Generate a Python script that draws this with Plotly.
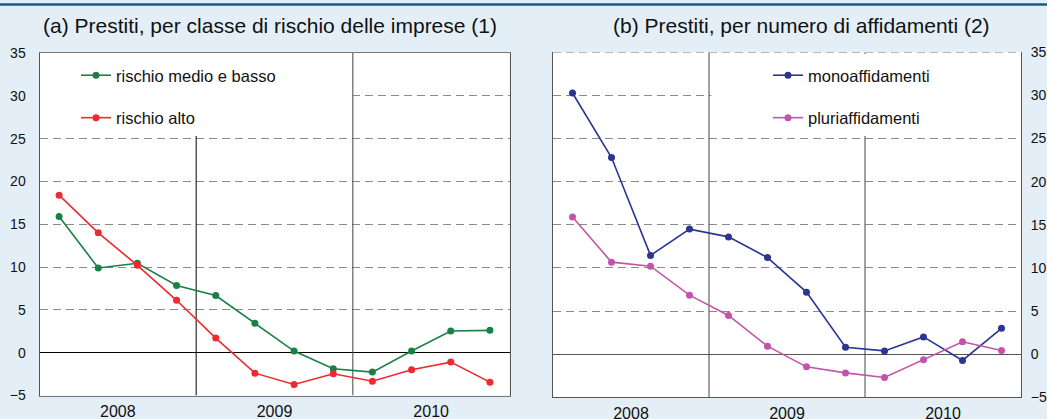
import plotly.graph_objects as go

quarters = ["2008T1", "2008T2", "2008T3", "2008T4",
            "2009T1", "2009T2", "2009T3", "2009T4",
            "2010T1", "2010T2", "2010T3", "2010T4"]
years = ["2008", "2009", "2010"]

rischio_medio_basso = [15.9, 9.9, 10.45, 7.85, 6.67, 3.43, 0.19, -1.87, -2.27, 0.2, 2.53, 2.61]
rischio_alto = [18.4, 14.0, 10.2, 6.12, 1.71, -2.39, -3.71, -2.46, -3.33, -1.99, -1.1, -3.44]

monoaffidamenti = [30.28, 22.8, 11.45, 14.5, 13.6, 11.2, 7.19, 0.81, 0.38, 2.0, -0.73, 3.0]
pluriaffidamenti = [15.9, 10.67, 10.2, 6.84, 4.49, 0.93, -1.47, -2.17, -2.7, -0.66, 1.43, 0.43]

title_a = "(a) Prestiti, per classe di rischio delle imprese (1)"
title_b = "(b) Prestiti, per numero di affidamenti (2)"
y_ticks = [-5, 0, 5, 10, 15, 20, 25, 30, 35]

W, H = 1047, 419
FONT = "Liberation Sans, Arial, sans-serif"
BG = "#e3eef6"

xi = list(range(len(quarters)))
year_centers = [sum(i for i, q in enumerate(quarters) if q.startswith(y)) /
                sum(1 for q in quarters if q.startswith(y)) for y in years]
year_bounds = [i - 0.5 for i in range(1, len(quarters)) if quarters[i][:4] != quarters[i - 1][:4]]

fig = go.Figure()

def add(x, y, name, color, xa, ya, legend):
    fig.add_trace(go.Scatter(
        x=x, y=y, name=name, mode="lines+markers",
        line=dict(color=color, width=1.6),
        marker=dict(color=color, size=7),
        xaxis=xa, yaxis=ya, legend=legend, legendgroup=name,
    ))

add(xi, rischio_medio_basso, "rischio medio e basso", "#1a8045", "x", "y", "legend")
add(xi, rischio_alto, "rischio alto", "#ee2a2e", "x", "y", "legend")
add(xi, monoaffidamenti, "monoaffidamenti", "#2b3592", "x2", "y2", "legend2")
add(xi, pluriaffidamenti, "pluriaffidamenti", "#c255ab", "x2", "y2", "legend2")

def px_x(p):
    return p / W

def px_y(p):
    return 1 - p / H

xcommon = dict(range=[-0.5, len(quarters) - 0.5], tickmode="array",
               tickvals=year_centers, ticktext=years, showgrid=False,
               zeroline=False, ticks="", tickfont=dict(size=16, color="#111", family=FONT),
               ticklabelstandoff=1, automargin=False)
ycommon = dict(range=[-5, 35], tickmode="array", tickvals=y_ticks,
               showgrid=True, gridcolor="#8a8a8a", griddash="8px,5px", gridwidth=1,
               ticks="", tickfont=dict(size=14, color="#111", family=FONT),
               zeroline=True, zerolinewidth=1.2, automargin=False)

fig.update_layout(
    width=W, height=H, margin=dict(l=0, r=0, t=0, b=0, autoexpand=False),
    paper_bgcolor=BG, plot_bgcolor="white",
    font=dict(family=FONT, size=14, color="#111"),
    xaxis=dict(domain=[px_x(39.5), px_x(509.5)], anchor="y",
               showline=True, linecolor="#777", linewidth=1, mirror=True, **xcommon),
    yaxis=dict(domain=[px_y(395.5), px_y(53)], anchor="x", side="left",
               showline=True, linecolor="#555", linewidth=1, mirror=True,
               zerolinecolor="#000", ticklabelstandoff=10, **ycommon),
    xaxis2=dict(domain=[px_x(553), px_x(1021)], anchor="y2",
                showline=True, linecolor="#555", linewidth=1, mirror=False, **xcommon),
    yaxis2=dict(domain=[px_y(397.3), px_y(52.3)], anchor="x2", side="right",
                showline=True, linecolor="#555", linewidth=1, mirror=True,
                zerolinecolor="#555", ticklabelstandoff=6, **ycommon),
    legend=dict(x=px_x(76), y=px_y(58), xanchor="left", yanchor="top",
                bgcolor="rgba(0,0,0,0)", font=dict(size=16.5, family=FONT, color="#111"),
                tracegroupgap=18, itemwidth=30, traceorder="grouped"),
    legend2=dict(x=px_x(768), y=px_y(58), xanchor="left", yanchor="top",
                 bgcolor="rgba(0,0,0,0)", font=dict(size=16.5, family=FONT, color="#111"),
                 tracegroupgap=18, itemwidth=30, traceorder="grouped"),
    showlegend=True,
)

shapes = []
# top rule
shapes.append(dict(type="line", xref="paper", yref="paper", x0=-0.01, x1=1.01,
                   y0=px_y(4.5), y1=px_y(4.5), line=dict(color="#1b5a80", width=2.5)))
# left panel: first year line, white legend area, second year line
shapes.append(dict(type="line", xref="x", yref="y", x0=year_bounds[0], x1=year_bounds[0],
                   y0=-5, y1=35, line=dict(color="#000", width=1), layer="between"))
shapes.append(dict(type="rect", xref="x", yref="y", x0=-0.5, x1=year_bounds[1],
                   y0=25.3, y1=35, fillcolor="white", line=dict(width=0), layer="between"))
shapes.append(dict(type="line", xref="x", yref="y", x0=year_bounds[1], x1=year_bounds[1],
                   y0=-5, y1=35, line=dict(color="#444", width=1), layer="between"))
# right panel
shapes.append(dict(type="line", xref="x2", yref="y2", x0=year_bounds[1], x1=year_bounds[1],
                   y0=-5, y1=35, line=dict(color="#444", width=1), layer="between"))
shapes.append(dict(type="rect", xref="x2", yref="y2", x0=year_bounds[0] + 0.06, x1=11.45,
                   y0=25.3, y1=34.8, fillcolor="white", line=dict(width=0), layer="between"))
shapes.append(dict(type="line", xref="x2", yref="y2", x0=year_bounds[0], x1=year_bounds[0],
                   y0=-5, y1=35, line=dict(color="#444", width=1), layer="between"))
shapes.append(dict(type="line", xref="x2", yref="y2", x0=-0.5, x1=11.5,
                   y0=35, y1=35, line=dict(color="#8a8a8a", width=1, dash="8px,5px")))
fig.update_layout(shapes=shapes)

fig.add_annotation(text=title_a, xref="paper", yref="paper", x=px_x(270), y=px_y(26),
                   xanchor="center", yanchor="middle",
                   showarrow=False, font=dict(size=21, family=FONT, color="#111"))
fig.add_annotation(text=title_b, xref="paper", yref="paper", x=px_x(801), y=px_y(26),
                   xanchor="center", yanchor="middle",
                   showarrow=False, font=dict(size=21, family=FONT, color="#111"))

fig.write_html(
    "out.html",
    config={"displayModeBar": False},
    post_script="document.body.style.margin='0';document.body.style.overflow='hidden';",
)
